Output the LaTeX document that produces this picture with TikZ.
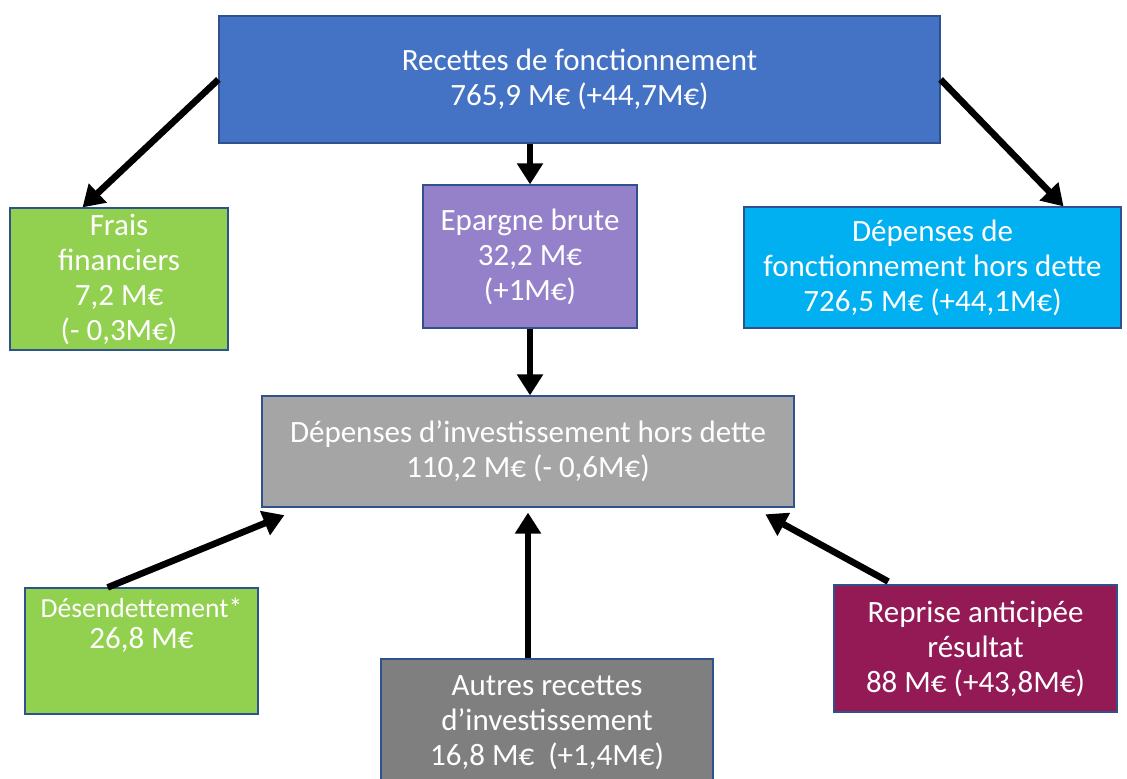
\documentclass[tikz,border=0pt]{standalone}
\usepackage{fontspec}
\setmainfont{Carlito}
\usetikzlibrary{arrows.meta}

\definecolor{bleu}{HTML}{4472C4}
\definecolor{vert}{HTML}{92D050}
\definecolor{violet}{HTML}{9580CA}
\definecolor{ciel}{HTML}{00B0F0}
\definecolor{gris}{HTML}{A5A5A5}
\definecolor{grisfonce}{HTML}{7F7F7F}
\definecolor{prune}{HTML}{931A55}
\definecolor{bord}{HTML}{2F528F}

\begin{document}
\begin{tikzpicture}[x=0.5pt,y=-0.5pt,>={Triangle[length=10.5pt,width=12.5pt]},
	box/.style={draw=bord,line width=0.6pt,text=white,align=center,inner sep=0pt,
		font=\fontsize{15.5}{17.5}\selectfont},
	fleche/.style={->,line width=3.3pt}]

\useasboundingbox (0,0) rectangle (1127,779);
\clip (0,0) rectangle (1127,779);

% fonctionnement
\node (rec) at (579.5,79.5) [box,fill=bleu,minimum width=360.5pt,minimum height=63.5pt]
	{Recettes de fonctionnement\\765,9 M€ (+44,7M€)};
\node (frais) at (119,279) [box,fill=vert,minimum width=109pt,minimum height=71pt]
	{Frais\\financiers\\7,2 M€\\(- 0,3M€)};
\node (epar) at (530,256.5) [box,fill=violet,minimum width=107pt,minimum height=71.5pt]
	{Epargne brute\\32,2 M€\\(+1M€)};
\node (depf) at (932.5,267.5) [box,fill=ciel,minimum width=188.5pt,minimum height=60.5pt]
	{Dépenses de\\fonctionnement hors dette\\726,5 M€ (+44,1M€)};

% investissement
\node (inv) at (528,451.5) [box,fill=gris,minimum width=266pt,minimum height=55.5pt]
	{Dépenses d’investissement hors dette\\110,2 M€ (- 0,6M€)};
\node (desd) at (141.5,651) [box,fill=vert,minimum width=116.5pt,minimum height=63pt] {};
\node (desdtxt) at (141.5,625) [box,draw=none,font=\fontsize{15.5}{15.5}\selectfont]
	{{\fontsize{13.8}{15.5}\selectfont Désendettement*}\\26,8 M€};
\node (autr) at (547,723) [box,fill=grisfonce,minimum width=166pt,minimum height=64pt]
	{Autres recettes\\d’investissement\\16,8 M€~~(+1,4M€)};
\node (repr) at (975.5,648.5) [box,fill=prune,minimum width=141.5pt,minimum height=63.5pt]
	{Reprise anticipée\\résultat\\88 M€ (+43,8M€)};

\draw[fleche] (rec.west) -- (frais.117);
\draw[fleche] (epar.north |- rec.south) -- (epar.north);
\draw[fleche] (rec.east) -- (depf.25);
\draw[fleche] (epar.south) -- (epar.south |- inv.north);

\draw[fleche,shorten >=10pt] (desd.118) -- (inv.194);
\draw[fleche,shorten >=2.5pt] (inv.south |- autr.north) -- (inv.south);
\draw[fleche,shorten <=3pt,shorten >=7pt] (repr.142) -- (inv.-14);

\end{tikzpicture}
\end{document}
